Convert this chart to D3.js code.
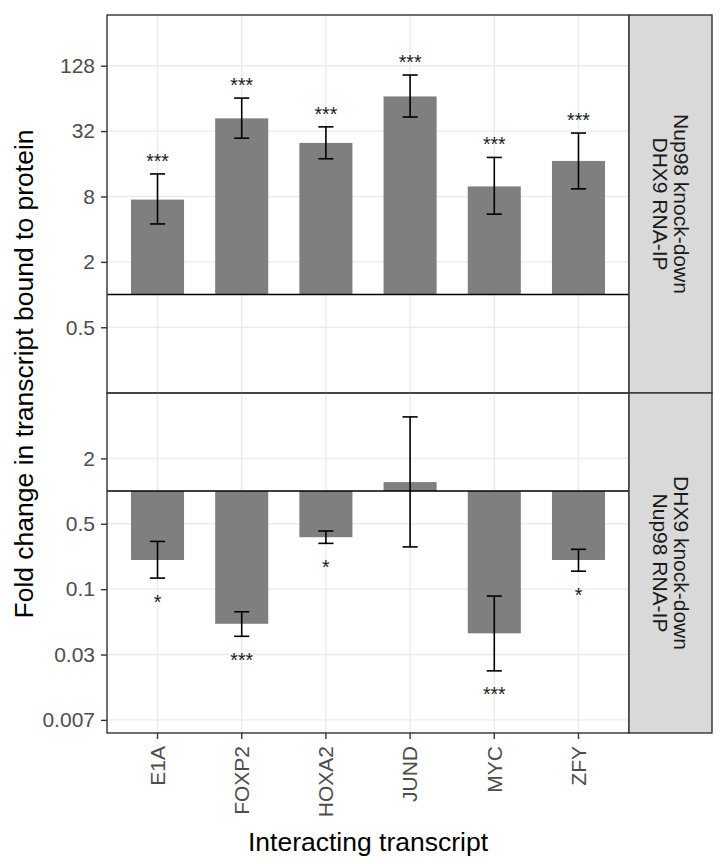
<!DOCTYPE html>
<html><head><meta charset="utf-8">
<script src="https://cdn.jsdelivr.net/npm/d3@7"></script>
<style>body{margin:0;background:#fff}svg{display:block;font-family:"Liberation Sans",Arial,sans-serif}</style>
</head><body>
<svg id="c" width="727" height="864"></svg>
<script>
const categories = ["E1A","FOXP2","HOXA2","JUND","MYC","ZFY"];
// Panel 1: Nup98 knock-down / DHX9 RNA-IP
const p1Values = [7.49, 41.9, 24.9, 66.7, 9.9, 17.0];
const p1Upper  = [12.9, 64.4, 35.0, 105, 18.3, 30.7];
const p1Lower  = [4.47, 27.5, 17.8, 43.1, 5.5, 9.4];
const p1Sig    = ["***","***","***","***","***","***"];
// Panel 2: DHX9 knock-down / Nup98 RNA-IP
const p2Values = [0.232, 0.060, 0.376, 1.21, 0.049, 0.232];
const p2Upper  = [0.344, 0.0774, 0.429, 4.82, 0.108, 0.291];
const p2Lower  = [0.158, 0.046, 0.330, 0.306, 0.0221, 0.183];
const p2Sig    = ["*","***","*","","***","*"];
const p1Ticks = [128, 32, 8, 2, 0.5];
const p1TickLabels = ["128","32","8","2","0.5"];
const p2Ticks = [2, 0.5, 0.125, 0.03125, 0.0078125];
const p2TickLabels = ["2","0.5","0.1","0.03","0.007"];
const p1Strip = ["Nup98 knock-down","DHX9 RNA-IP"];
const p2Strip = ["DHX9 knock-down","Nup98 RNA-IP"];
const xTitle = "Interacting transcript";
const yTitle = "Fold change in transcript bound to protein";

const svg = d3.select("#c");
const L = 107, R = 629, SR = 712;
const x = d3.scalePoint().domain(categories).range([L, R]).padding(0.6);
const step = x.step();
const barW = step * 0.63, capW = step * 0.18;

const panels = [
  {top:15, bottom:393, dom:[Math.pow(2,-3.01), Math.pow(2,8.55)], v:p1Values, up:p1Upper, lo:p1Lower, sig:p1Sig, ticks:p1Ticks, labels:p1TickLabels, strip:p1Strip},
  {top:393, bottom:733, dom:[Math.pow(2,-7.4), Math.pow(2,3.0)], v:p2Values, up:p2Upper, lo:p2Lower, sig:p2Sig, ticks:p2Ticks, labels:p2TickLabels, strip:p2Strip}
];

panels.forEach((p, pi) => {
  const y = d3.scaleLog().base(2).domain(p.dom).range([p.bottom, p.top]);
  const g = svg.append("g");
  // gridlines
  g.selectAll(".gy").data(p.ticks).enter().append("line")
    .attr("x1", L).attr("x2", R).attr("y1", d=>y(d)).attr("y2", d=>y(d))
    .attr("stroke","#EBEBEB").attr("stroke-width",1.4);
  g.selectAll(".gx").data(categories).enter().append("line")
    .attr("x1", d=>x(d)).attr("x2", d=>x(d)).attr("y1", p.top).attr("y2", p.bottom)
    .attr("stroke","#EBEBEB").attr("stroke-width",1.4);
  // bars
  const idx = d3.range(categories.length);
  g.selectAll(".bar").data(idx).enter().append("rect")
    .attr("x", i=>x(categories[i]) - barW/2).attr("width", barW)
    .attr("y", i=>Math.min(y(p.v[i]), y(1)))
    .attr("height", i=>Math.abs(y(p.v[i]) - y(1)))
    .attr("fill","#7F7F7F");
  // baseline
  g.append("line").attr("x1",L).attr("x2",R).attr("y1",y(1)).attr("y2",y(1))
    .attr("stroke","#000").attr("stroke-width",1.5);
  // error bars
  const eb = g.selectAll(".eb").data(idx).enter().append("g").attr("stroke","#000").attr("stroke-width",1.6);
  eb.append("line").attr("x1",i=>x(categories[i])).attr("x2",i=>x(categories[i]))
    .attr("y1",i=>y(p.up[i])).attr("y2",i=>y(p.lo[i]));
  eb.append("line").attr("x1",i=>x(categories[i])-capW/2).attr("x2",i=>x(categories[i])+capW/2)
    .attr("y1",i=>y(p.up[i])).attr("y2",i=>y(p.up[i]));
  eb.append("line").attr("x1",i=>x(categories[i])-capW/2).attr("x2",i=>x(categories[i])+capW/2)
    .attr("y1",i=>y(p.lo[i])).attr("y2",i=>y(p.lo[i]));
  // significance
  g.selectAll(".sig").data(idx).enter().append("text")
    .attr("x", i=>x(categories[i]))
    .attr("y", i=> p.v[i] >= 1 ? y(p.up[i]) - 6 : y(p.lo[i]) + 30.5)
    .attr("text-anchor","middle").attr("font-size",19.5).attr("fill","#1a1a1a")
    .text(i=>p.sig[i]);
  // border
  g.append("rect").attr("x",L).attr("y",p.top).attr("width",R-L).attr("height",p.bottom-p.top)
    .attr("fill","none").attr("stroke","#333333").attr("stroke-width",1.4);
  // strip
  g.append("rect").attr("x",R).attr("y",p.top).attr("width",SR-R).attr("height",p.bottom-p.top)
    .attr("fill","#D9D9D9").attr("stroke","#333333").attr("stroke-width",1.4);
  const cx = (R+SR)/2, cy = (p.top+p.bottom)/2;
  const st = g.append("g").attr("transform",`translate(${cx},${cy}) rotate(90)`);
  st.selectAll("text").data(p.strip).enter().append("text")
    .attr("x",0).attr("y",(d,i)=> i===0 ? -11.2 : 10.5).attr("dy","0.35em")
    .attr("text-anchor","middle").attr("font-size",21).attr("fill","#1A1A1A")
    .text(d=>d);
  // y axis
  const ax = d3.axisLeft(y).tickValues(p.ticks).tickFormat((d,i)=>p.labels[i]).tickSize(6).tickPadding(6);
  const ag = svg.append("g").attr("transform",`translate(${L},0)`).call(ax);
  ag.select(".domain").remove();
  ag.selectAll(".tick line").attr("stroke","#333333").attr("stroke-width",1.4);
  ag.selectAll(".tick text").attr("font-size",21).attr("fill","#4D4D4D").attr("font-family","Liberation Sans, Arial, sans-serif");
});

// x axis
const xa = svg.append("g").attr("transform","translate(0,733)");
xa.selectAll("line").data(categories).enter().append("line")
  .attr("x1",d=>x(d)).attr("x2",d=>x(d)).attr("y1",0).attr("y2",6)
  .attr("stroke","#333333").attr("stroke-width",1.4);
xa.selectAll("text").data(categories).enter().append("text")
  .attr("transform",d=>`translate(${x(d)},13) rotate(-90)`)
  .attr("dy","0.35em").attr("text-anchor","end").attr("font-size",21).attr("fill","#4D4D4D")
  .text(d=>d);

svg.append("text").attr("x",(L+R)/2).attr("y",851).attr("text-anchor","middle")
  .attr("font-size",26.5).attr("fill","#000").text(xTitle);
svg.append("text").attr("transform",`translate(33.3,374) rotate(-90)`).attr("text-anchor","middle")
  .attr("font-size",26.5).attr("fill","#000").text(yTitle);
</script>
</body></html>
